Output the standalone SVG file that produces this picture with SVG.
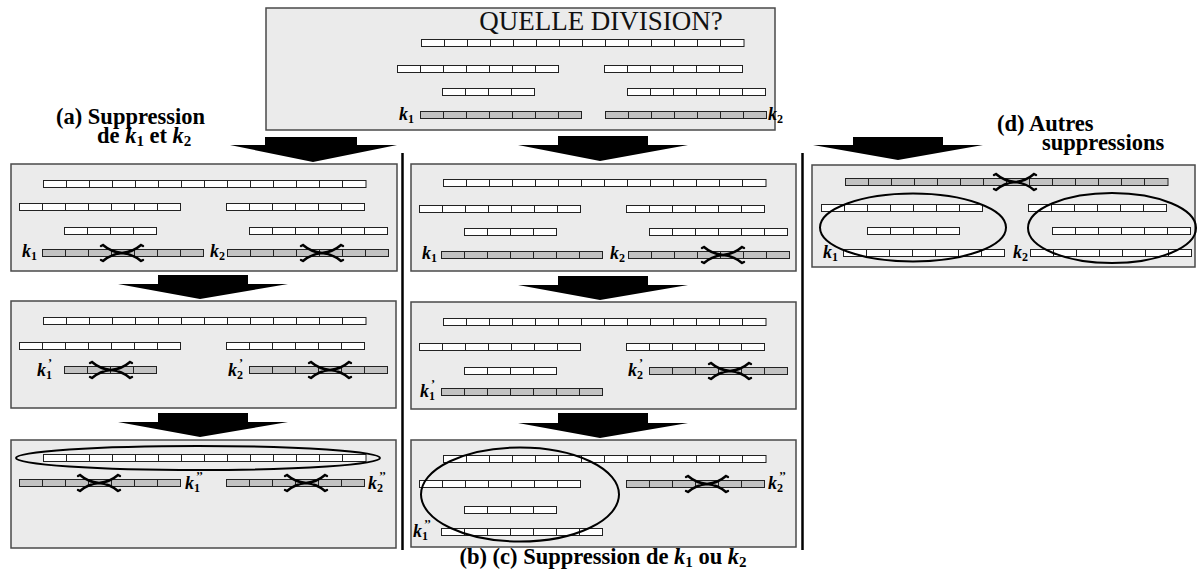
<svg xmlns="http://www.w3.org/2000/svg" xmlns:xlink="http://www.w3.org/1999/xlink" width="1197" height="579" viewBox="0 0 1197 579">
<style>
.box{fill:#ebebeb;stroke:#4a4a4a;stroke-width:1.5}
.bw{fill:#fff;stroke:#222;stroke-width:1}
.bg{fill:#c2c2c2;stroke:#222;stroke-width:1}
.dv{stroke:#222;stroke-width:1;fill:none}
.xm{fill:none;stroke:#000;stroke-width:2.4;stroke-linecap:round}
.el{fill:none;stroke:#000;stroke-width:2}
.arr{fill:#000}
.sep{stroke:#000;stroke-width:2.5}
.k{font-family:"Liberation Serif","DejaVu Serif",serif;font-style:italic;font-weight:bold;font-size:18px;fill:#000}
.s{font-size:12px;font-style:normal}
.lab{font-family:"Liberation Serif","DejaVu Serif",serif;font-weight:bold;font-size:22.5px;fill:#000}
.ki{font-style:italic}
.ls{font-size:15px}
.title{font-family:"Liberation Serif","DejaVu Serif",serif;font-size:27px;fill:#111}
</style>
<defs>
<g id="w14"><rect class="bw" x=".5" y=".5" width="322.5" height="7"/><path class="dv" d="M23.5 0v8M46.5 0v8M69.5 0v8M92.5 0v8M115.5 0v8M138.5 0v8M161.5 0v8M184.5 0v8M207.5 0v8M230.5 0v8M253.5 0v8M276.5 0v8M299.5 0v8"/></g>
<g id="g14"><rect class="bg" x=".5" y=".5" width="322.5" height="7"/><path class="dv" d="M23.5 0v8M46.5 0v8M69.5 0v8M92.5 0v8M115.5 0v8M138.5 0v8M161.5 0v8M184.5 0v8M207.5 0v8M230.5 0v8M253.5 0v8M276.5 0v8M299.5 0v8"/></g>
<g id="w7"><rect class="bw" x=".5" y=".5" width="161" height="7"/><path class="dv" d="M23.5 0v8M46.5 0v8M69.5 0v8M92.5 0v8M115.5 0v8M138.5 0v8"/></g>
<g id="g7"><rect class="bg" x=".5" y=".5" width="161" height="7"/><path class="dv" d="M23.5 0v8M46.5 0v8M69.5 0v8M92.5 0v8M115.5 0v8M138.5 0v8"/></g>
<g id="w6"><rect class="bw" x=".5" y=".5" width="138" height="7"/><path class="dv" d="M23.5 0v8M46.5 0v8M69.5 0v8M92.5 0v8M115.5 0v8"/></g>
<g id="g6"><rect class="bg" x=".5" y=".5" width="138" height="7"/><path class="dv" d="M23.5 0v8M46.5 0v8M69.5 0v8M92.5 0v8M115.5 0v8"/></g>
<g id="w4"><rect class="bw" x=".5" y=".5" width="92" height="7"/><path class="dv" d="M23.5 0v8M46.5 0v8M69.5 0v8"/></g>
<g id="g4"><rect class="bg" x=".5" y=".5" width="92" height="7"/><path class="dv" d="M23.5 0v8M46.5 0v8M69.5 0v8"/></g>
<g id="xx"><path class="xm" d="M-19,-8 Q-11,-1 0,0 Q11,1 19,8 M-19,8 Q-11,1 0,0 Q11,-1 19,-8 M-19,-8 l-2,1 M19,8 l2,-1 M-19,8 l-2,-1 M19,-8 l2,1"/></g>
</defs>

<g id="separators">
<line class="sep" x1="402.5" y1="153" x2="402.5" y2="550"/>
<line class="sep" x1="802.5" y1="153" x2="802.5" y2="550"/>
</g>

<g id="top">
<rect class="box" x="266" y="8" width="509" height="122"/>
<text class="title" x="601" y="30" text-anchor="middle">QUELLE DIVISION?</text>
<use href="#w14" x="421" y="39"/>
<use href="#w7" x="397" y="65"/>
<use href="#w6" x="604" y="65"/>
<use href="#w4" x="442" y="88"/>
<use href="#w6" x="627" y="88"/>
<use href="#g7" x="420" y="111"/>
<use href="#g7" x="605" y="111"/>
<text class="k" x="399" y="120">k<tspan class="s" dy="3">1</tspan></text>
<text class="k" x="768" y="120">k<tspan class="s" dy="3">2</tspan></text>
</g>

<g id="label-a">
<text class="lab"><tspan x="56" y="124">(a) Suppression</tspan><tspan x="97" y="143">de </tspan><tspan class="ki">k</tspan><tspan class="ls" dy="3">1</tspan><tspan dy="-3"> et </tspan><tspan class="ki">k</tspan><tspan class="ls" dy="3">2</tspan></text>
</g>
<g id="label-d">
<text class="lab"><tspan x="997" y="131">(d) Autres</tspan><tspan x="1042" y="150">suppressions</tspan></text>
</g>
<g id="label-bc">
<text class="lab" x="603" y="564" text-anchor="middle">(b) (c) Suppression de <tspan class="ki">k</tspan><tspan class="ls" dy="3">1</tspan><tspan dy="-3"> ou </tspan><tspan class="ki">k</tspan><tspan class="ls" dy="3">2</tspan></text>
</g>

<g id="a1">
<rect class="box" x="11" y="164" width="386" height="107"/>
<use href="#w14" x="43" y="180"/>
<use href="#w7" x="19" y="203"/>
<use href="#w6" x="226" y="203"/>
<use href="#w4" x="64" y="227"/>
<use href="#w6" x="249" y="227"/>
<use href="#g7" x="42" y="249"/>
<use href="#g7" x="227" y="249"/>
<use href="#xx" x="122" y="253"/>
<use href="#xx" x="322" y="253"/>
<text class="k" x="22" y="257">k<tspan class="s" dy="3">1</tspan></text>
<text class="k" x="210" y="257">k<tspan class="s" dy="3">2</tspan></text>
</g>

<g id="a2">
<rect class="box" x="11" y="301" width="385" height="107"/>
<use href="#w14" x="43" y="317"/>
<use href="#w7" x="19" y="342"/>
<use href="#w6" x="226" y="342"/>
<use href="#g4" x="64" y="366"/>
<use href="#g6" x="249" y="366"/>
<use href="#xx" x="111" y="370"/>
<use href="#xx" x="330" y="370"/>
<text class="k" x="37" y="376">k<tspan class="s" dy="3">1</tspan><tspan class="s" dx="-4" dy="-12">’</tspan></text>
<text class="k" x="228" y="376">k<tspan class="s" dy="3">2</tspan><tspan class="s" dx="-4" dy="-12">’</tspan></text>
</g>

<g id="a3">
<rect class="box" x="11" y="440" width="385" height="108"/>
<use href="#w14" x="43" y="454"/>
<ellipse class="el" cx="198" cy="458" rx="182" ry="12"/>
<use href="#g7" x="19" y="479"/>
<use href="#g6" x="226" y="479"/>
<use href="#xx" x="99" y="483"/>
<use href="#xx" x="306" y="483"/>
<text class="k" x="185" y="489">k<tspan class="s" dy="3">1</tspan><tspan class="s" dx="-4" dy="-12">’’</tspan></text>
<text class="k" x="368" y="489">k<tspan class="s" dy="3">2</tspan><tspan class="s" dx="-4" dy="-12">’’</tspan></text>
</g>

<g id="b1">
<rect class="box" x="411" y="164" width="385" height="107"/>
<use href="#w14" x="443" y="179"/>
<use href="#w7" x="419" y="205"/>
<use href="#w6" x="626" y="205"/>
<use href="#w4" x="464" y="228"/>
<use href="#w6" x="649" y="228"/>
<use href="#g7" x="441" y="251"/>
<use href="#g7" x="628" y="251"/>
<use href="#xx" x="723" y="255"/>
<text class="k" x="422" y="259">k<tspan class="s" dy="3">1</tspan></text>
<text class="k" x="610" y="259">k<tspan class="s" dy="3">2</tspan></text>
</g>

<g id="b2">
<rect class="box" x="411" y="302" width="385" height="107"/>
<use href="#w14" x="443" y="318"/>
<use href="#w7" x="419" y="343"/>
<use href="#w6" x="626" y="343"/>
<use href="#w4" x="464" y="367"/>
<use href="#g6" x="649" y="367"/>
<use href="#xx" x="730" y="371"/>
<use href="#g7" x="441" y="388"/>
<text class="k" x="628" y="376">k<tspan class="s" dy="3">2</tspan><tspan class="s" dx="-4" dy="-12">’</tspan></text>
<text class="k" x="420" y="397">k<tspan class="s" dy="3">1</tspan><tspan class="s" dx="-4" dy="-12">’</tspan></text>
</g>

<g id="b3">
<rect class="box" x="411" y="440" width="385" height="107"/>
<use href="#w14" x="443" y="455"/>
<use href="#w7" x="419" y="480"/>
<use href="#g6" x="626" y="480"/>
<use href="#xx" x="707" y="484"/>
<use href="#w4" x="464" y="506"/>
<use href="#w7" x="441" y="528"/>
<ellipse class="el" cx="520" cy="494.5" rx="99" ry="47"/>
<text class="k" x="768" y="489">k<tspan class="s" dy="3">2</tspan><tspan class="s" dx="-4" dy="-12">’’</tspan></text>
<text class="k" x="413" y="537">k<tspan class="s" dy="3">1</tspan><tspan class="s" dx="-4" dy="-12">’’</tspan></text>
</g>

<g id="d1">
<rect class="box" x="812" y="165" width="383" height="102"/>
<use href="#g14" x="845" y="178"/>
<use href="#xx" x="1015" y="182"/>
<use href="#w7" x="821" y="204"/>
<use href="#w6" x="1028" y="204"/>
<use href="#w4" x="867" y="227"/>
<use href="#w6" x="1052" y="227"/>
<use href="#w7" x="843" y="249"/>
<use href="#w7" x="1030" y="249"/>
<ellipse class="el" cx="913" cy="227.5" rx="93" ry="34"/>
<ellipse class="el" cx="1112" cy="228" rx="84" ry="35"/>
<text class="k" x="823" y="258">k<tspan class="s" dy="3">1</tspan></text>
<text class="k" x="1013" y="258">k<tspan class="s" dy="3">2</tspan></text>
</g>

<g id="connectors">
<polygon class="arr" points="265,137 357,137 357,145 397,145 313,162 230,145 265,145"/>
<polygon class="arr" points="158,275 248,275 248,284 288,284 200,299 118,284 158,284"/>
<polygon class="arr" points="158,413 248,413 248,422 288,422 200,437 118,422 158,422"/>
<polygon class="arr" points="558,136 648,136 648,145 688,145 600,161 518,145 558,145"/>
<polygon class="arr" points="558,276 648,276 648,285 688,285 600,300 518,285 558,285"/>
<polygon class="arr" points="558,413 648,413 648,423 688,423 600,438 518,423 558,423"/>
<polygon class="arr" points="853,137 943,137 943,145 983,145 898,160 813,145 853,145"/>
</g>
</svg>
